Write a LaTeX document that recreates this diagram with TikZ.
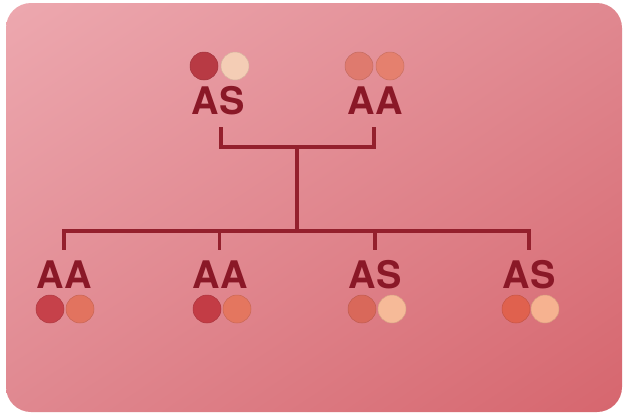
\documentclass[tikz,border=0pt]{standalone}
\usepackage{fontspec}
\setmainfont{TeX Gyre Heros}
\usetikzlibrary{shadings}
\begin{document}
\begin{tikzpicture}[x=1pt,y=-1pt,
  geno/.style={font=\fontsize{38}{38}\selectfont\bfseries, text=txtred, inner sep=0pt, anchor=center},
  cell/.style={circle, minimum size=28pt, inner sep=0pt, draw=#1!88!black, line width=0.5pt, fill=#1},
  link/.style={draw=linered, line width=3.2pt, line cap=rect}]
\definecolor{txtred}{HTML}{8A1827}
\definecolor{linered}{HTML}{94202D}
\definecolor{slidetl}{HTML}{EDA8AF}
\definecolor{slidebr}{HTML}{D6666E}
\definecolor{slidemid}{HTML}{E08890}
\definecolor{cdark}{HTML}{B83A44}
\definecolor{cpale}{HTML}{F4CDB5}
\definecolor{csalA}{HTML}{DF7A6E}
\definecolor{csalB}{HTML}{E5806E}
\definecolor{cred1}{HTML}{C6414A}
\definecolor{cor1}{HTML}{E2735F}
\definecolor{cred2}{HTML}{C33C45}
\definecolor{cor2}{HTML}{E4765F}
\definecolor{cor3}{HTML}{D9685A}
\definecolor{cpeach3}{HTML}{F6BA98}
\definecolor{cor4}{HTML}{E0614E}
\definecolor{cpeach4}{HTML}{F6B290}
\useasboundingbox (0,0) rectangle (626,418);
\fill[white] (0,0) rectangle (626,418);
% slide background
\shade[rounded corners=25pt, upper left=slidetl, upper right=slidemid, lower left=slidemid, lower right=slidebr]
  (6,3) rectangle (622,412);

% parents
\node[cell=cdark] (p1a) at (204,66) {};
\node[cell=cpale] (p1b) at (235,66) {};
\node[geno] (p1) at (218,101) {AS};
\node[cell=csalA] (p2a) at (359,66) {};
\node[cell=csalB] (p2b) at (390,66) {};
\node[geno] (p2) at (375,101) {AA};

% children
\node[geno] (c1) at (64,275) {AA};
\node[cell=cred1] (c1a) at (50,309) {};
\node[cell=cor1] (c1b) at (80,309) {};
\node[geno] (c2) at (220,275) {AA};
\node[cell=cred2] (c2a) at (207,309) {};
\node[cell=cor2] (c2b) at (237,309) {};
\node[geno] (c3) at (375,275) {AS};
\node[cell=cor3] (c3a) at (362,309) {};
\node[cell=cpeach3] (c3b) at (392,309) {};
\node[geno] (c4) at (529,275) {AS};
\node[cell=cor4] (c4a) at (516,309) {};
\node[cell=cpeach4] (c4b) at (545,309) {};

% pedigree connectors
\coordinate (t1) at (221,129);
\coordinate (t2) at (374,129);
\coordinate (mid) at (297,147);
\coordinate (bar) at (297,231);
\coordinate (b1) at (64,248);
\coordinate (b2) at (219.5,248);
\coordinate (b3) at (375,248);
\coordinate (b4) at (529,248);
\draw[link] (t1) |- (mid) -| (t2);
\draw[link] (mid) -- (bar);
\draw[link] (b1) |- (bar) -| (b4);
\draw[link] (b2) -- (b2 |- bar);
\draw[link] (b3) -- (b3 |- bar);
\end{tikzpicture}
\end{document}
